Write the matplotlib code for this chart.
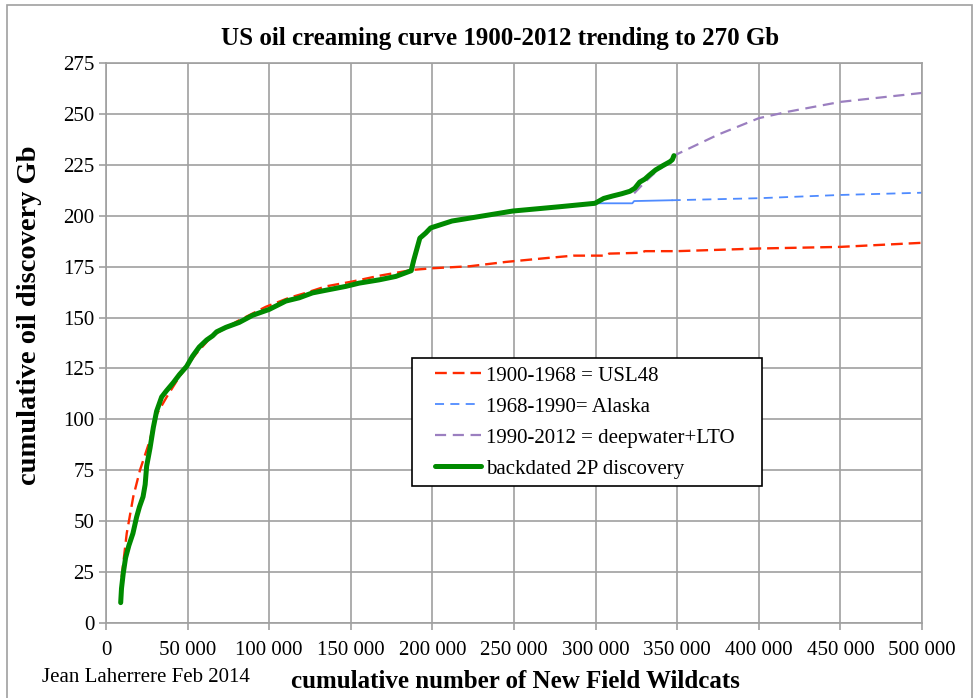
import matplotlib
matplotlib.use('Agg')
import matplotlib.pyplot as plt
from matplotlib.patches import Rectangle
from matplotlib.ticker import FuncFormatter

# backdated 2P discovery (green)
green_x = [9000, 9500, 10600, 12000, 14000, 16500, 18750, 20500, 22700, 24000, 24900, 27000,
           29000, 30000, 31000, 34100, 37000, 41200, 45000, 49400, 53000, 57100, 61700, 65300,
           67800, 73500, 81600, 89800, 100000, 110200, 118400, 126500, 134700, 146900, 155100,
           167300, 177600, 187000, 188500, 192300, 195900, 198900, 212000, 249200, 277700,
           299600, 305000, 310500, 316000, 321000, 324000, 327000, 330200, 333000, 336800,
           341000, 345500, 347000, 348000]
green_y = [10, 17, 24.6, 32, 38, 44, 52, 57, 62, 68, 77, 86,
           96, 100, 104, 111, 114, 118, 122, 126, 131, 135.5, 139, 141,
           143, 145.2, 147.6, 151.1, 154, 158.1, 159.7, 162.1, 163.4, 165.3, 166.9,
           168.5, 170.2, 173, 178, 189, 191.5, 194, 197.4, 202.3, 204.4,
           206.1, 208.5, 209.7, 210.8, 212, 213.5, 216.5, 218, 220, 222.5,
           224.5, 226.5, 227.5, 229.5]

# 1900-1968 = USL48 (red)
red_x = [9600, 12700, 16700, 20800, 27000, 30000, 37200, 45000, 55000, 65000, 80000, 98000,
         112200, 122400, 134700, 151000, 167300, 187800, 200000, 223000, 244900, 271100,
         286400, 306100, 308300, 328000, 330200, 350000, 400000, 450000, 500000]
red_y = [22.6, 44, 62, 75, 90, 101, 111, 121, 132, 141, 148, 155.3,
         159.7, 162.1, 165.3, 167.7, 170.5, 173.4, 174.2, 175.2, 177.3, 179.3,
         180.4, 180.4, 181.4, 181.8, 182.6, 182.6, 183.9, 184.7, 186.7]

# 1968-1990 = Alaska (blue)
blue_x = [187800, 192300, 198900, 212000, 249200, 277700, 299600, 306100, 322500, 323600,
          346600, 400000, 450000, 500000]
blue_y = [173, 189, 194, 197.4, 202.3, 204.4, 206.1, 206.1, 206.1, 207.2,
          207.6, 208.6, 210.2, 211.3]

# 1990-2012 = deepwater+LTO (purple)
purple_x = [323600, 330200, 336800, 345500, 348000, 375300, 400000, 418000, 450000, 500000]
purple_y = [211, 216.5, 221.5, 226.5, 229.5, 239.9, 247.9, 251.1, 255.9, 260.3]

plt.rcParams['font.family'] = ['Liberation Serif', 'DejaVu Serif']

fig = plt.figure(figsize=(9.79, 6.98), dpi=100)
ax = fig.add_axes([106 / 979, 1 - 623 / 698, 816 / 979, 560 / 698])

grid_c = '#a0a0a0'
red_ls = (0, (5, 2.5))
blue_ls = (0, (5, 3.5))
purple_ls = (0, (5, 3))

n_hist = blue_x.index(346600) + 1
ax.plot(blue_x[:n_hist], blue_y[:n_hist], color='#4f8bff', lw=1.3, zorder=2)
ax.plot(blue_x[n_hist - 1:], blue_y[n_hist - 1:], color='#4f8bff', lw=1.3,
        linestyle=blue_ls, zorder=2)
ax.plot(purple_x, purple_y, color='#9b7fc0', lw=1.6, linestyle=purple_ls, zorder=2)
ax.plot(red_x, red_y, color='#ff2a00', lw=1.7, linestyle=red_ls, zorder=3)
ax.plot(green_x, green_y, color='#008a00', lw=3.6, solid_capstyle='round',
        solid_joinstyle='round', zorder=4)

# legend handles
h_red, = ax.plot([], [], color='#ff2a00', lw=1.7, linestyle=red_ls)
h_blue, = ax.plot([], [], color='#4f8bff', lw=1.3, linestyle=blue_ls)
h_purple, = ax.plot([], [], color='#9b7fc0', lw=1.6, linestyle=purple_ls)
h_green, = ax.plot([], [], color='#008a00', lw=3.6, solid_capstyle='round')

ax.set_xlim(0, 500000)
ax.set_ylim(0, 275)
ax.set_xticks(range(0, 500001, 50000))
ax.set_yticks(range(0, 276, 25))
ax.xaxis.set_major_formatter(FuncFormatter(lambda v, p: f'{int(v):,}'.replace(',', ' ')))
ax.grid(True, color=grid_c, lw=1.2)
ax.set_axisbelow(True)
for s in ax.spines.values():
    s.set_color(grid_c)
    s.set_linewidth(1.2)
ax.tick_params(colors=grid_c, labelcolor='black', labelsize=15, length=5, width=1.2)
ax.tick_params(axis='x', pad=8)

# legend box drawn separately, legend itself frameless
ax.add_patch(Rectangle(((412 - 106) / 816, (623 - 486) / 560), 350 / 816, 128 / 560,
                       transform=ax.transAxes, facecolor='white', edgecolor='black',
                       lw=1.2, zorder=5))
leg = ax.legend([h_red, h_blue, h_purple, h_green],
                ['1900-1968 = USL48', '1968-1990= Alaska', '1990-2012 = deepwater+LTO',
                 'backdated 2P discovery'],
                loc='upper left', bbox_to_anchor=((435 - 106) / 816, (623 - 366) / 560),
                fontsize=15, frameon=False, handlelength=2.2, handletextpad=0.25,
                labelspacing=0.55, borderpad=0, borderaxespad=0)
leg.set_zorder(6)

fig.text(500 / 979, 1 - 38 / 698, 'US oil creaming curve 1900-2012 trending to 270 Gb',
         ha='center', va='center', fontsize=18, fontweight='bold')
fig.text(30 / 979, 1 - 315 / 698, 'cumulative oil discovery Gb', rotation=90,
         ha='center', va='center', fontsize=20.5, fontweight='bold')
fig.text(515 / 979, 1 - 681 / 698, 'cumulative number of New Field Wildcats',
         ha='center', va='center', fontsize=18, fontweight='bold')
fig.text(42 / 979, 1 - 677 / 698, 'Jean Laherrere Feb 2014',
         ha='left', va='center', fontsize=15)

fig.patches.append(Rectangle((7 / 979, -0.02), 965 / 979, 1 - 5 / 698 + 0.02,
                             transform=fig.transFigure, fill=False,
                             edgecolor=grid_c, lw=1.2))

fig.savefig('out.png', dpi=100)
